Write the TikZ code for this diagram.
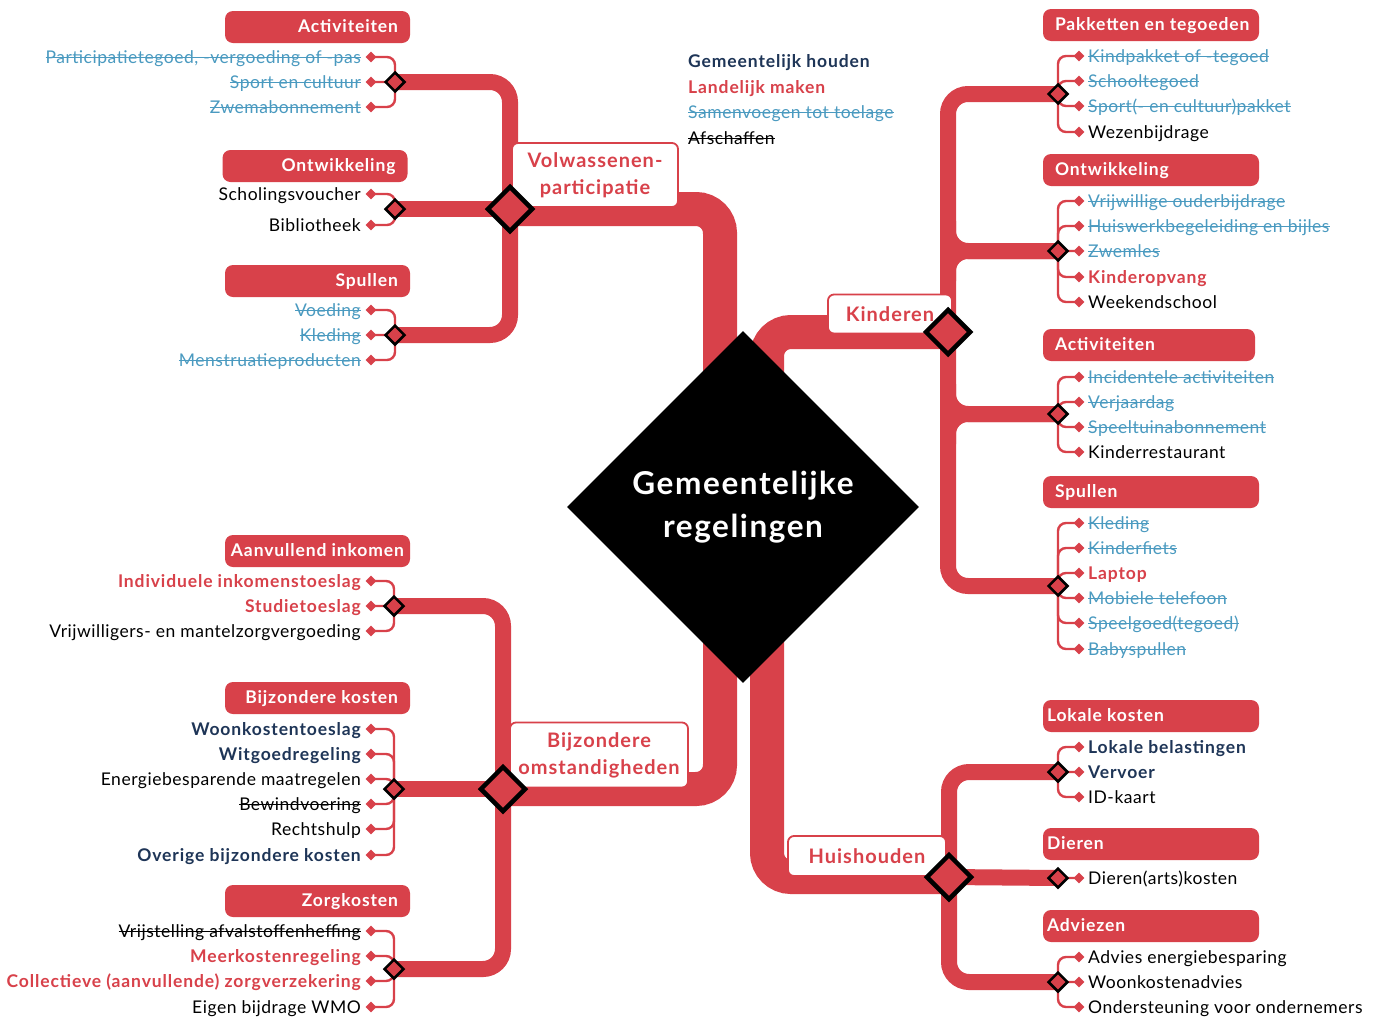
\documentclass[tikz,border=0pt]{standalone}
\usepackage{fontspec}
\setmainfont[LetterSpace=3, BoldFeatures={LetterSpace=5}]{Lato}
\usetikzlibrary{shapes.geometric,calc}
\definecolor{rd}{HTML}{D8414A}
\definecolor{nv}{HTML}{1E3557}
\definecolor{bl}{HTML}{4A9AC0}
\newsavebox\stbox
\newcommand\Sout[1]{\sbox\stbox{#1}\rlap{\rule[4.6pt]{\wd\stbox}{1.2pt}}\usebox\stbox}
\newcommand\Gh[1]{\textcolor{nv}{\bfseries #1}}
\newcommand\Lm[1]{\textcolor{rd}{\bfseries #1}}
\newcommand\Sv[1]{\textcolor{bl}{\Sout{#1}}}
\newcommand\Af[1]{\Sout{#1}}
\newcommand\Pl[1]{#1}
\newcommand\fI{\fontsize{17.5}{20}\selectfont}
\pgfdeclarelayer{trunks}
\pgfdeclarelayer{twigs}
\pgfsetlayers{trunks,twigs,main}
\tikzset{
  trunk/.style={draw=rd, line width=34pt, rounded corners=24pt},
  subtrunk/.style={draw=rd, line width=16pt, rounded corners=20pt},
  twig/.style={draw=rd, line width=2.4pt, rounded corners=8pt},
  hub/.style={diamond, fill=black, minimum size=352pt, inner sep=0pt, text=white,
     font=\bfseries\fontsize{31.5}{43}\selectfont, align=center},
  bigdia/.style={diamond, draw=black, line width=4.5pt, fill=rd, minimum size=46pt, inner sep=0pt},
  catdia/.style={diamond, draw=black, line width=2.5pt, fill=rd, minimum size=20pt, inner sep=0pt},
  bul/.style={diamond, fill=rd, minimum size=11pt, inner sep=0pt},
  lbl/.style={draw=rd, line width=1.8pt, fill=white, rounded corners=6pt, text=rd,
     font=\bfseries\fontsize{20}{27}\selectfont, align=center, inner sep=0pt},
  hd/.style={fill=rd, rounded corners=8pt, text=white, font=\bfseries\fI,
     minimum height=32pt, inner ysep=0pt, text height=13pt, text depth=3pt},
  hdL/.style={hd, inner xsep=12pt},
  hdR/.style={hd, inner xsep=12pt},
  hdRb/.style={hd, inner xsep=4pt},
  txtL/.style={anchor=east, inner sep=0pt, font=\fI, text height=14pt, text depth=2pt},
  txtR/.style={anchor=west, inner sep=0pt, font=\fI, text height=14pt, text depth=2pt},
}
\newcommand\itL[4]{%
  \node[bul] (#1b) at (371,#3) {};
  \node[txtL] (#1) at (361,#3) {#4};
  \begin{pgfonlayer}{twigs}\draw[twig] (#2.center) |- (#1b.center);\end{pgfonlayer}}
\newcommand\itR[4]{%
  \node[bul] (#1b) at (1079,#3) {};
  \node[txtR] (#1) at (1088,#3) {#4};
  \begin{pgfonlayer}{twigs}\draw[twig] (#2.center) |- (#1b.center);\end{pgfonlayer}}
\begin{document}
\begin{tikzpicture}[x=1pt,y=-1pt]
\path[use as bounding box] (0,0) rectangle (1374,1018);
\begin{pgfonlayer}{trunks}
\fill[white] (0,0) rectangle (1374,1018);
\end{pgfonlayer}

% centre
\node[hub] (C) at (743,507) {Gemeentelijke\\regelingen};

% branch labels
\node[lbl, minimum width=166pt, minimum height=64pt] (LVP) at (595,175) {Volwassenen-\\participatie};
\node[lbl, minimum width=124pt, minimum height=39pt] (LKI) at (890,314) {Kinderen};
\node[lbl, minimum width=158pt, minimum height=40pt] (LHH) at (867,856) {Huishouden};
\node[lbl, minimum width=178pt, minimum height=65pt] (LBO) at (599,755) {Bijzondere\\omstandigheden};

% branch diamonds
\node[bigdia] (dVP) at (510,209) {};
\node[bigdia] (dKI) at (948,332) {};
\node[bigdia] (dHH) at (949,877) {};
\node[bigdia] (dBO) at (503,789) {};

% category diamonds
\node[catdia] (dVA) at (395,82) {};
\node[catdia] (dVO) at (395,209) {};
\node[catdia] (dVS) at (395,335) {};
\node[catdia] (dBA) at (394,606) {};
\node[catdia] (dBK) at (394,789) {};
\node[catdia] (dBZ) at (394,969) {};
\node[catdia] (dKP) at (1058,94) {};
\node[catdia] (dKO) at (1058,251) {};
\node[catdia] (dKA) at (1058,414) {};
\node[catdia] (dKS) at (1058,586) {};
\node[catdia] (dHL) at (1058,772) {};
\node[catdia] (dHD) at (1058,878) {};
\node[catdia] (dHA) at (1058,982) {};

\coordinate (tL) at (720,0);
\coordinate (tR) at (767,0);

\begin{pgfonlayer}{trunks}
\draw[trunk] (dVP.center) -- (dVP.center -| tL) -- (dBO.center -| tL) -- (dBO.center);
\draw[trunk] (dKI.center) -- (dKI.center -| tR) -- (dHH.center -| tR) -- (dHH.center);
% volwassenen
\draw[subtrunk] (dVA.center) -- (dVA.center -| dVP.center) -- (dVS.center -| dVP.center) -- (dVS.center);
\draw[subtrunk] (dVO.center) -- (dVP.center);
% bijzondere omstandigheden
\draw[subtrunk] (dBA.center) -- (dBA.center -| dBO.center) -- (dBZ.center -| dBO.center) -- (dBZ.center);
\draw[subtrunk] (dBK.center) -- (dBO.center);
% kinderen
\draw[subtrunk] (dKP.center) -- (dKP.center -| dKI.center) -- (dKS.center -| dKI.center) -- (dKS.center);
\draw[subtrunk] ($(dKO.center -| dKI.center)+(0,-30)$) -- (dKO.center -| dKI.center) -- (dKO.center);
\draw[subtrunk] ($(dKO.center -| dKI.center)+(0,30)$) -- (dKO.center -| dKI.center) -- (dKO.center);
\draw[subtrunk] ($(dKA.center -| dKI.center)+(0,-30)$) -- (dKA.center -| dKI.center) -- (dKA.center);
\draw[subtrunk] ($(dKA.center -| dKI.center)+(0,30)$) -- (dKA.center -| dKI.center) -- (dKA.center);
% huishouden
\draw[subtrunk] (dHL.center) -- (dHL.center -| dHH.center) -- (dHA.center -| dHH.center) -- (dHA.center);
\draw[subtrunk] (dHH.center) -- (dHD.center);
\end{pgfonlayer}

% headers left
\node[hdL] (hVA) at (317.5,27) {\makebox[161pt][r]{Activiteiten}};
\node[hdL] (hVO) at (315,166) {\makebox[161pt][r]{Ontwikkeling}};
\node[hdL] (hVS) at (317.5,281) {\makebox[161pt][r]{Spullen}};
\node[hdL, inner xsep=6pt] (hBA) at (317.5,551) {\makebox[173pt][r]{Aanvullend inkomen}};
\node[hdL] (hBK) at (317.5,698) {\makebox[161pt][r]{Bijzondere kosten}};
\node[hdL] (hBZ) at (317.5,901) {\makebox[161pt][r]{Zorgkosten}};
% headers right
\node[hdR] (hKP) at (1151,25) {\makebox[192pt][l]{Pakketten en tegoeden}};
\node[hdR] (hKO) at (1151,170) {\makebox[192pt][l]{Ontwikkeling}};
\node[hdR] (hKA) at (1149,345) {\makebox[188pt][l]{Activiteiten}};
\node[hdR] (hKS) at (1151,492) {\makebox[192pt][l]{Spullen}};
\node[hdRb] (hHL) at (1151,716) {\makebox[208pt][l]{Lokale kosten}};
\node[hdRb] (hHD) at (1151,844) {\makebox[208pt][l]{Dieren}};
\node[hdRb] (hHA) at (1151,926) {\makebox[208pt][l]{Adviezen}};

% legend
\node[txtR] (g1) at (688,61) {\Gh{Gemeentelijk houden}};
\node[txtR] (g2) at (688,87) {\Lm{Landelijk maken}};
\node[txtR] (g3) at (688,112) {\Sv{Samenvoegen tot toelage}};
\node[txtR] (g4) at (688,138) {\Af{Afschaffen}};

% items left top
\itL{a1}{dVA}{57}{\Sv{Participatietegoed, -vergoeding of -pas}}
\itL{a2}{dVA}{82}{\Sv{Sport en cultuur}}
\itL{a3}{dVA}{107}{\Sv{Zwemabonnement}}
\itL{o1}{dVO}{194}{\Pl{Scholingsvoucher}}
\itL{o2}{dVO}{225}{\Pl{Bibliotheek}}
\itL{s1}{dVS}{310}{\Sv{Voeding}}
\itL{s2}{dVS}{335}{\Sv{Kleding}}
\itL{s3}{dVS}{360}{\Sv{Menstruatieproducten}}
% items left bottom
\itL{b1}{dBA}{581}{\Lm{Individuele inkomenstoeslag}}
\itL{b2}{dBA}{606}{\Lm{Studietoeslag}}
\itL{b3}{dBA}{631}{\Pl{Vrijwilligers- en mantelzorgvergoeding}}
\itL{k1}{dBK}{729}{\Gh{Woonkostentoeslag}}
\itL{k2}{dBK}{754}{\Gh{Witgoedregeling}}
\itL{k3}{dBK}{779}{\Pl{Energiebesparende maatregelen}}
\itL{k4}{dBK}{804}{\Af{Bewindvoering}}
\itL{k5}{dBK}{829}{\Pl{Rechtshulp}}
\itL{k6}{dBK}{855}{\Gh{Overige bijzondere kosten}}
\itL{z1}{dBZ}{931}{\Af{Vrijstelling afvalstoffenheffing}}
\itL{z2}{dBZ}{956}{\Lm{Meerkostenregeling}}
\itL{z3}{dBZ}{981}{\Lm{Collectieve (aanvullende) zorgverzekering}}
\itL{z4}{dBZ}{1007}{\Pl{Eigen bijdrage WMO}}
% items right kinderen
\itR{p1}{dKP}{56}{\Sv{Kindpakket of -tegoed}}
\itR{p2}{dKP}{81}{\Sv{Schooltegoed}}
\itR{p3}{dKP}{106}{\Sv{Sport(- en cultuur)pakket}}
\itR{p4}{dKP}{132}{\Pl{Wezenbijdrage}}
\itR{r1}{dKO}{201}{\Sv{Vrijwillige ouderbijdrage}}
\itR{r2}{dKO}{226}{\Sv{Huiswerkbegeleiding en bijles}}
\itR{r3}{dKO}{251}{\Sv{Zwemles}}
\itR{r4}{dKO}{277}{\Lm{Kinderopvang}}
\itR{r5}{dKO}{302}{\Pl{Weekendschool}}
\itR{t1}{dKA}{377}{\Sv{Incidentele activiteiten}}
\itR{t2}{dKA}{402}{\Sv{Verjaardag}}
\itR{t3}{dKA}{427}{\Sv{Speeltuinabonnement}}
\itR{t4}{dKA}{452}{\Pl{Kinderrestaurant}}
\itR{u1}{dKS}{523}{\Sv{Kleding}}
\itR{u2}{dKS}{548}{\Sv{Kinderfiets}}
\itR{u3}{dKS}{573}{\Lm{Laptop}}
\itR{u4}{dKS}{598}{\Sv{Mobiele telefoon}}
\itR{u5}{dKS}{623}{\Sv{Speelgoed(tegoed)}}
\itR{u6}{dKS}{649}{\Sv{Babyspullen}}
% items right huishouden
\itR{l1}{dHL}{747}{\Gh{Lokale belastingen}}
\itR{l2}{dHL}{772}{\Gh{Vervoer}}
\itR{l3}{dHL}{797}{\Pl{ID-kaart}}
\itR{e1}{dHD}{878}{\Pl{Dieren(arts)kosten}}
\itR{v1}{dHA}{957}{\Pl{Advies energiebesparing}}
\itR{v2}{dHA}{982}{\Pl{Woonkostenadvies}}
\itR{v3}{dHA}{1007}{\Pl{Ondersteuning voor ondernemers}}
\end{tikzpicture}
\end{document}
